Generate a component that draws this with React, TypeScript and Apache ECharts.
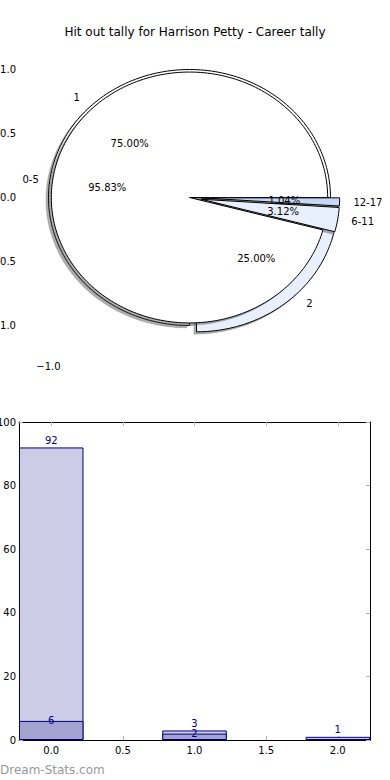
import React, { useEffect, useRef } from 'react';
import * as echarts from 'echarts';

const TITLE = 'Hit out tally for Harrison Petty - Career tally';
const WATERMARK = 'Dream-Stats.com';

// Pie A (drawn first, behind)
const outerCategories = ['1', '2'];
const outerValues = [3, 1];
const outerExplode = [0, 0.07];
const outerColors = ['#ffffff', '#e9f0fd'];
const outerRadius = 1.0;

// Pie B (drawn on top)
const innerCategories = ['0-5', '6-11', '12-17'];
const innerValues = [92, 3, 1];
const innerExplode = [0, 0.085, 0.085];
const innerColors = ['#ffffff', '#e9f0fd', '#c6d8f6'];
const innerRadius = 0.98;

// Bars
const barX = [0, 1, 2];
const barTotals = [92, 3, 1];
const barSubX = [0, 1];
const barSub = [6, 2];

// Tick values
const pieXTicks = [-1];
const pieYTicks = [-1, -0.5, 0, 0.5, 1];
const barXTicks = [0, 0.5, 1, 1.5, 2];

const FONT = 'DejaVu Sans';
const TICK_COLOR = '#b0b0b0';
const NAVY = '#000080';

type Slice = { start: number; end: number; mid: number; ex: number; r: number; pct: string; label: string; color: string };

const rad = (d: number) => (d * Math.PI) / 180;
const pyPct = (p: number) => (Math.round(p * 100 - 1e-7) / 100).toFixed(2) + '%';

function buildSlices(cats: string[], values: number[], explode: number[], colors: string[], radius: number): Slice[] {
  const total = values.reduce((a, b) => a + b, 0);
  let a = 0;
  return values.map((v, i) => {
    const span = (v / total) * 360;
    const s: Slice = { start: a, end: a + span, mid: a + span / 2, ex: explode[i], r: radius, pct: pyPct((v / total) * 100), label: cats[i], color: colors[i] };
    a += span;
    return s;
  });
}

const outerSlices = buildSlices(outerCategories, outerValues, outerExplode, outerColors, outerRadius);
const innerSlices = buildSlices(innerCategories, innerValues, innerExplode, innerColors, innerRadius);

type Lbl = { text: string; x: number; y: number; align: string };
function buildLabels(slices: Slice[]): Lbl[] {
  const out: Lbl[] = [];
  slices.forEach((s) => {
    const c = Math.cos(rad(s.mid));
    const sn = Math.sin(rad(s.mid));
    const cx = s.ex * c;
    const cy = s.ex * sn;
    const lx = cx + 1.1 * s.r * c;
    const ly = cy + 1.1 * s.r * sn;
    out.push({ text: s.label, x: lx, y: ly, align: lx > 0 ? 'left' : 'right' });
    out.push({ text: s.pct, x: cx + 0.6 * s.r * c, y: cy + 0.6 * s.r * sn, align: 'center' });
  });
  return out;
}
const pieLabels = [...buildLabels(outerSlices), ...buildLabels(innerSlices)];

function wedgePoints(s: Slice, api: any, dx = 0, dy = 0) {
  const cx = s.ex * Math.cos(rad(s.mid)) + dx;
  const cy = s.ex * Math.sin(rad(s.mid)) + dy;
  const pts = [api.coord([cx, cy])];
  const n = Math.max(4, Math.ceil((s.end - s.start) / 1.5));
  for (let k = 0; k <= n; k++) {
    const a = rad(s.start + ((s.end - s.start) * k) / n);
    pts.push(api.coord([cx + s.r * Math.cos(a), cy + s.r * Math.sin(a)]));
  }
  return pts;
}

function wedgeSeries(slices: Slice[], shadow: boolean, z: number) {
  return {
    type: 'custom',
    coordinateSystem: 'cartesian2d',
    xAxisIndex: 0,
    yAxisIndex: 0,
    z,
    silent: true,
    clip: false,
    data: slices.map((_, i) => [0, 0, i]),
    encode: { x: 0, y: 1 },
    renderItem: (params: any, api: any) => {
      const s = slices[params.dataIndex];
      if (shadow) {
        return {
          type: 'polygon',
          shape: { points: wedgePoints(s, api, -0.018, -0.018) },
          style: { fill: '#4d4d4d', stroke: '#4d4d4d', lineWidth: 0.5, opacity: 0.45 },
        };
      }
      return {
        type: 'polygon',
        shape: { points: wedgePoints(s, api) },
        style: { fill: s.color, stroke: '#000000', lineWidth: 1 },
      };
    },
  };
}

const fmtNum = (v: number) => (v < 0 ? '\u2212' + Math.abs(v).toFixed(1) : v.toFixed(1));

const labelStyle = { fontSize: 10, fontFamily: FONT, color: '#000' };
const tickStyle = { inside: true, length: 4, lineStyle: { color: TICK_COLOR, width: 1 } };

// pie grid geometry
const PIE_LEFT = 21, PIE_TOP = 40, PIE_W = 348, PIE_H = 316;
const PIE_CX = 189.5, PIE_CY = 197.5, UX = 141, UY = 128;
const pieXMin = -(PIE_CX - PIE_LEFT) / UX;
const pieXMax = pieXMin + PIE_W / UX;
const pieYMax = (PIE_CY - PIE_TOP) / UY;
const pieYMin = pieYMax - PIE_H / UY;

// bar grid geometry
const BAR_LEFT = 19, BAR_TOP = 422, BAR_W = 351, BAR_H = 318;
const BAR_XMIN = -0.225, BAR_XMAX = 2.225;
const BAR_WIDTH_UNITS = 0.45;

export default function App() {
  const ref = useRef<HTMLDivElement>(null);
  useEffect(() => {
    if (!ref.current) return;
    const chart = echarts.init(ref.current, undefined, { renderer: 'svg' });
    const barPx = (BAR_WIDTH_UNITS * BAR_W) / (BAR_XMAX - BAR_XMIN);
    const option: any = {
      animation: false,
      backgroundColor: '#ffffff',
      title: {
        text: TITLE,
        left: 'center',
        top: 21,
        textStyle: { fontSize: 12, fontWeight: 'normal', fontFamily: FONT, color: '#000' },
      },
      grid: [
        { left: PIE_LEFT, top: PIE_TOP, width: PIE_W, height: PIE_H, containLabel: false, outerBoundsMode: 'none' },
        { left: BAR_LEFT, top: BAR_TOP, width: BAR_W, height: BAR_H, containLabel: false, outerBoundsMode: 'none' },
      ],
      xAxis: [
        {
          gridIndex: 0, type: 'value', min: pieXMin, max: pieXMax, position: 'bottom',
          axisLine: { show: false }, splitLine: { show: false },
          axisTick: { ...tickStyle, customValues: pieXTicks },
          axisLabel: { ...labelStyle, margin: 5, customValues: pieXTicks, formatter: fmtNum },
        },
        {
          gridIndex: 0, type: 'value', min: pieXMin, max: pieXMax, position: 'top',
          axisLine: { show: false }, splitLine: { show: false },
          axisTick: { ...tickStyle, customValues: pieXTicks },
          axisLabel: { show: false, customValues: pieXTicks },
        },
        {
          gridIndex: 1, type: 'value', min: BAR_XMIN, max: BAR_XMAX, position: 'bottom',
          axisLine: { show: true, onZero: false, lineStyle: { color: '#000', width: 1 } },
          splitLine: { show: false },
          axisTick: { ...tickStyle, customValues: barXTicks },
          axisLabel: { ...labelStyle, margin: 5, customValues: barXTicks, formatter: fmtNum },
        },
        {
          gridIndex: 1, type: 'value', min: BAR_XMIN, max: BAR_XMAX, position: 'top',
          axisLine: { show: true, onZero: false, lineStyle: { color: '#000', width: 1 } },
          splitLine: { show: false },
          axisTick: { ...tickStyle, customValues: barXTicks },
          axisLabel: { show: false, customValues: barXTicks },
        },
      ],
      yAxis: [
        {
          gridIndex: 0, type: 'value', min: pieYMin, max: pieYMax, position: 'left',
          axisLine: { show: false }, splitLine: { show: false },
          axisTick: { ...tickStyle, customValues: pieYTicks },
          axisLabel: { ...labelStyle, margin: 5, customValues: pieYTicks, formatter: fmtNum },
        },
        {
          gridIndex: 0, type: 'value', min: pieYMin, max: pieYMax, position: 'right',
          axisLine: { show: false }, splitLine: { show: false },
          axisTick: { ...tickStyle, customValues: pieYTicks },
          axisLabel: { show: false, customValues: pieYTicks },
        },
        {
          gridIndex: 1, type: 'value', min: 0, max: 100, interval: 20, position: 'left',
          axisLine: { show: true, onZero: false, lineStyle: { color: '#000', width: 1 } },
          splitLine: { show: false },
          axisTick: { ...tickStyle },
          axisLabel: { ...labelStyle, margin: 3 },
        },
        {
          gridIndex: 1, type: 'value', min: 0, max: 100, interval: 20, position: 'right',
          axisLine: { show: true, onZero: false, lineStyle: { color: '#000', width: 1 } },
          splitLine: { show: false },
          axisTick: { ...tickStyle },
          axisLabel: { show: false },
        },
      ],
      series: [
        wedgeSeries(outerSlices, true, 1),
        wedgeSeries(outerSlices, false, 2),
        wedgeSeries(innerSlices, true, 3),
        wedgeSeries(innerSlices, false, 4),
        {
          type: 'custom',
          coordinateSystem: 'cartesian2d',
          xAxisIndex: 0,
          yAxisIndex: 0,
          z: 5,
          silent: true,
          clip: false,
          data: pieLabels.map((l) => [l.x, l.y]),
          encode: { x: 0, y: 1 },
          renderItem: (params: any, api: any) => {
            const l = pieLabels[params.dataIndex];
            const p = api.coord([l.x, l.y]);
            return {
              type: 'text',
              x: p[0],
              y: p[1],
              style: { text: l.text, align: l.align, verticalAlign: 'middle', fontSize: 10, fontFamily: FONT, fill: '#000000' },
            };
          },
        },
        {
          type: 'bar',
          xAxisIndex: 2,
          yAxisIndex: 2,
          barWidth: barPx,
          barGap: '-100%',
          data: barX.map((x, i) => [x, barTotals[i]]),
          itemStyle: { color: '#ccccE6', borderColor: NAVY, borderWidth: 1 },
          label: { show: true, position: 'top', distance: 2, color: NAVY, fontSize: 10, fontFamily: FONT },
        },
        {
          type: 'bar',
          xAxisIndex: 2,
          yAxisIndex: 2,
          barWidth: barPx,
          barGap: '-100%',
          data: barSubX.map((x, i) => [x, barSub[i]]),
          itemStyle: { color: '#a3a3d1', borderColor: NAVY, borderWidth: 1 },
          label: { show: true, position: ['50%', 0], align: 'center', verticalAlign: 'middle', color: NAVY, fontSize: 10, fontFamily: FONT },
        },
      ],
      graphic: [
        {
          type: 'text',
          left: 0,
          top: 764,
          style: { text: WATERMARK, fill: '#999999', fontSize: 12, fontFamily: FONT },
        },
      ],
    };
    chart.setOption(option);
    return () => chart.dispose();
  }, []);
  return <div ref={ref} style={{ position: 'absolute', left: 0, top: 0, width: 390, height: 780 }} />;
}
